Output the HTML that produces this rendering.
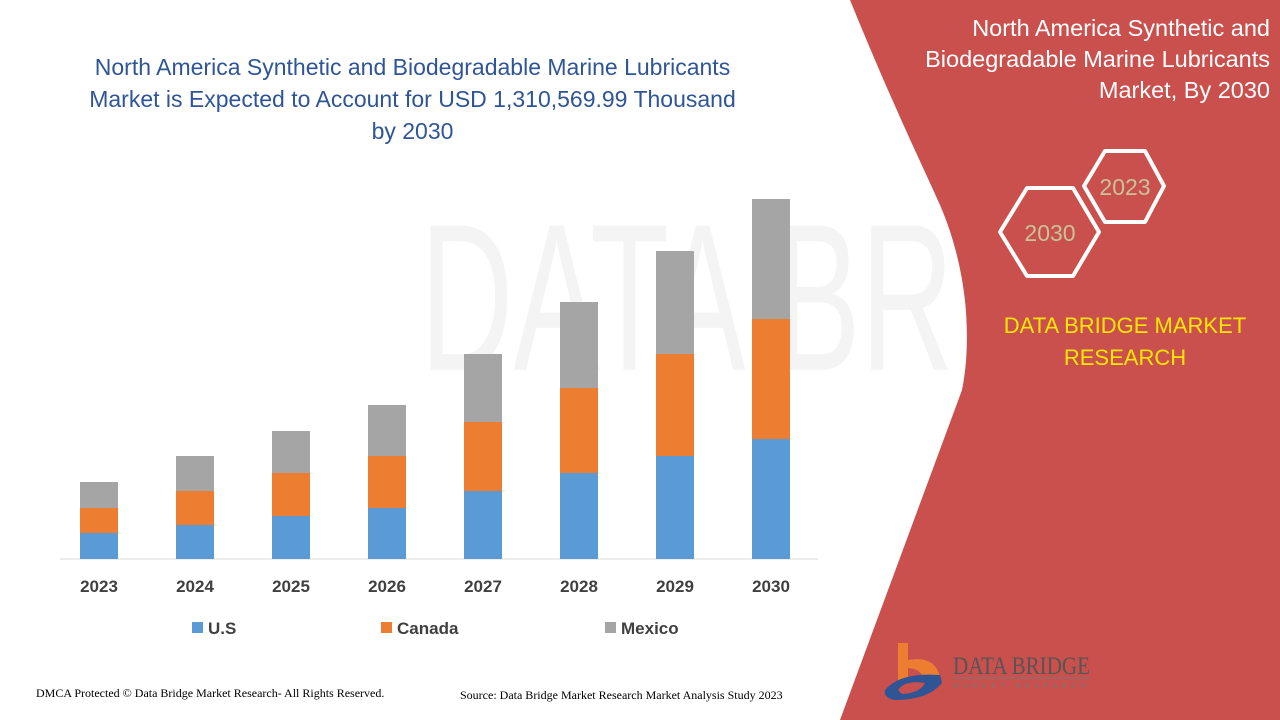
<!DOCTYPE html>
<html><head><meta charset="utf-8"><style>
body{margin:0;width:1280px;height:720px;overflow:hidden;background:#fff;position:relative;font-family:"Liberation Sans",sans-serif}
.t{position:absolute;white-space:nowrap}
</style></head><body>
<svg width="1280" height="720" style="position:absolute;left:0;top:0">
<text x="420" y="370" font-size="210" fill="#f4f4f4" font-family="Liberation Sans" textLength="850" lengthAdjust="spacingAndGlyphs">DATA BRIDGE</text>
<path d="M850,0 L1280,0 L1280,720 L840,720 L962,390 C972,340 968,270 940,205 C920,160 895,110 850,0 Z" fill="#c9504c"/>
<polygon points="1000,232 1027,188 1073,188 1099,232 1073,276 1027,276" fill="none" stroke="#fff" stroke-width="4" stroke-linejoin="round"/>
<polygon points="1084,186 1105,151 1145,151 1164,186 1145,222 1105,222" fill="none" stroke="#fff" stroke-width="4" stroke-linejoin="round"/>
<text x="1050" y="241" font-size="23" fill="#c8c39a" text-anchor="middle">2030</text>
<text x="1125" y="195" font-size="23" fill="#c8c39a" text-anchor="middle">2023</text>
<line x1="60" y1="559" x2="818" y2="559" stroke="#d9d9d9" stroke-width="1"/>
<g>
<rect x="80" y="533" width="38" height="26" fill="#5b9bd5"/><rect x="80" y="508" width="38" height="25" fill="#ed7d31"/><rect x="80" y="482" width="38" height="26" fill="#a5a5a5"/>
<rect x="176" y="525" width="38" height="34" fill="#5b9bd5"/><rect x="176" y="491" width="38" height="34" fill="#ed7d31"/><rect x="176" y="456" width="38" height="35" fill="#a5a5a5"/>
<rect x="272" y="516" width="38" height="43" fill="#5b9bd5"/><rect x="272" y="473" width="38" height="43" fill="#ed7d31"/><rect x="272" y="431" width="38" height="42" fill="#a5a5a5"/>
<rect x="368" y="508" width="38" height="51" fill="#5b9bd5"/><rect x="368" y="456" width="38" height="52" fill="#ed7d31"/><rect x="368" y="405" width="38" height="51" fill="#a5a5a5"/>
<rect x="464" y="491" width="38" height="68" fill="#5b9bd5"/><rect x="464" y="422" width="38" height="69" fill="#ed7d31"/><rect x="464" y="354" width="38" height="68" fill="#a5a5a5"/>
<rect x="560" y="473" width="38" height="86" fill="#5b9bd5"/><rect x="560" y="388" width="38" height="85" fill="#ed7d31"/><rect x="560" y="302" width="38" height="86" fill="#a5a5a5"/>
<rect x="656" y="456" width="38" height="103" fill="#5b9bd5"/><rect x="656" y="354" width="38" height="102" fill="#ed7d31"/><rect x="656" y="251" width="38" height="103" fill="#a5a5a5"/>
<rect x="752" y="439" width="38" height="120" fill="#5b9bd5"/><rect x="752" y="319" width="38" height="120" fill="#ed7d31"/><rect x="752" y="199" width="38" height="120" fill="#a5a5a5"/>
</g>
<g font-size="17" font-weight="bold" fill="#404040" text-anchor="middle">
<text x="99" y="592">2023</text><text x="195" y="592">2024</text><text x="291" y="592">2025</text><text x="387" y="592">2026</text><text x="483" y="592">2027</text><text x="579" y="592">2028</text><text x="675" y="592">2029</text><text x="771" y="592">2030</text>
</g>
<g font-size="17" font-weight="bold" fill="#404040">
<rect x="192" y="622" width="11" height="11" fill="#5b9bd5"/><text x="208" y="634">U.S</text>
<rect x="381" y="622" width="11" height="11" fill="#ed7d31"/><text x="397" y="634">Canada</text>
<rect x="605" y="622" width="11" height="11" fill="#a5a5a5"/><text x="621" y="634">Mexico</text>
</g>
<g>
<path d="M898,643 L908,643 L908,660 Q935,655 940,677 L925,680 Q920,668 908,668 L908,680 L898,680 Z" fill="#ed7d31"/>
<path d="M885,690 Q900,672 940,675 L942,683 Q928,700 895,700 Q883,698 885,690 Z" fill="#2f5597"/>
<path d="M898,690 Q905,680 925,683 Q920,693 902,694 Z" fill="#c9504c"/>
<text x="953" y="674" font-size="25" fill="#555" font-family="Liberation Serif" textLength="137" lengthAdjust="spacingAndGlyphs">DATA BRIDGE</text>
<line x1="953" y1="678" x2="1090" y2="678" stroke="#777" stroke-width="1"/>
<text x="953" y="688" font-size="7" fill="#777" letter-spacing="4.5">MARKET RESEARCH</text>
</g>
</svg>
<div class="t" style="left:20px;top:51px;width:785px;text-align:center;color:#2f5597;font-size:23px;line-height:32px">North America Synthetic and Biodegradable Marine Lubricants<br>Market is Expected to Account for USD 1,310,569.99 Thousand<br>by 2030</div>
<div class="t" style="right:10px;top:13px;text-align:right;color:#fff;font-size:23.5px;line-height:31px">North America Synthetic and<br>Biodegradable Marine Lubricants<br>Market, By 2030</div>
<div class="t" style="left:990px;top:310px;width:270px;text-align:center;color:#ffe600;font-size:22px;line-height:32px">DATA BRIDGE MARKET<br>RESEARCH</div>
<div class="t" style="left:36px;top:686px;font-family:'Liberation Serif',serif;font-size:12px;color:#000">DMCA Protected © Data Bridge Market Research- All Rights Reserved.</div>
<div class="t" style="left:460px;top:688px;font-family:'Liberation Serif',serif;font-size:12px;color:#000">Source: Data Bridge Market Research Market Analysis Study 2023</div>
</body></html>
